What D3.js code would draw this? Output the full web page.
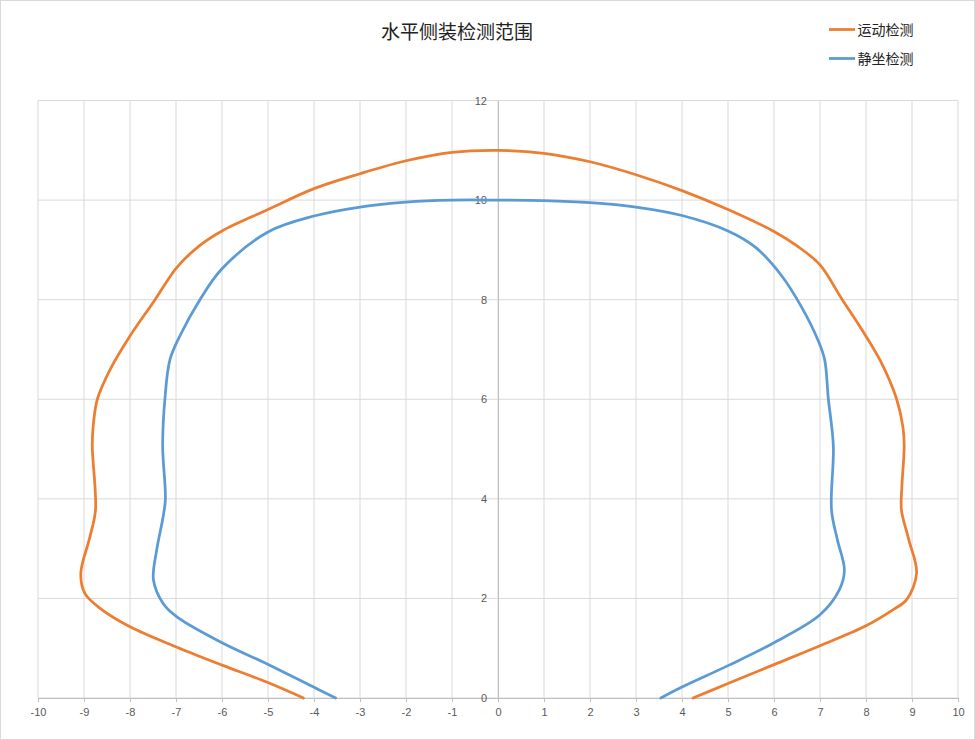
<!DOCTYPE html>
<html>
<head>
<meta charset="utf-8">
<script src="https://cdn.jsdelivr.net/npm/d3@7"></script>
<style>
  body { margin: 0; background: #fff; }
  svg { display: block; font-family: "Noto Sans CJK SC", "Noto Sans", sans-serif; }
</style>
</head>
<body>
<div id="chart"></div>
<script>
// Series names
const seriesNames = ["运动检测", "静坐检测"];

// 运动检测 (x, y) points
const runX = [-4.23, -5.03, -6.0, -6.98, -8.0, -8.65, -8.98, -9.07, -8.87, -8.75, -8.82, -8.8, -8.71, -8.43, -8.0, -7.47, -6.98, -6.48, -6.0, -5.0, -4.0, -3.0, -2.0, -1.0, 0, 1, 2, 3, 4, 5, 6, 6.5, 7, 7.45, 7.97, 8.33, 8.66, 8.8, 8.83, 8.78, 8.77, 8.93, 9.1, 8.88, 8.6, 8.0, 7.0, 6.0, 5.0, 4.24];
const runY = [0, 0.32, 0.66, 1.02, 1.43, 1.8, 2.1, 2.5, 3.24, 3.78, 5.06, 5.46, 6.0, 6.6, 7.27, 7.98, 8.65, 9.09, 9.38, 9.81, 10.23, 10.53, 10.79, 10.96, 11.0, 10.94, 10.77, 10.51, 10.19, 9.81, 9.37, 9.08, 8.7, 8.05, 7.31, 6.74, 6.02, 5.46, 5.06, 4.25, 3.78, 3.18, 2.51, 1.97, 1.78, 1.45, 1.05, 0.67, 0.29, 0];

// 静坐检测 (x, y) points
const sitX = [-3.53, -4.01, -5.03, -6.0, -6.98, -7.28, -7.49, -7.42, -7.28, -7.23, -7.29, -7.24, -7.13, -6.9, -6.48, -6.0, -5.0, -4.0, -3.0, -2.0, -1.0, 0, 1, 2, 3, 4, 5, 5.6, 6.15, 6.6, 6.95, 7.1, 7.18, 7.29, 7.25, 7.38, 7.53, 7.42, 7.0, 6.0, 5.0, 4.0, 3.54];
const sitY = [0, 0.22, 0.69, 1.11, 1.63, 1.9, 2.37, 2.97, 3.64, 4.0, 5.06, 6.02, 6.8, 7.3, 8.0, 8.62, 9.36, 9.68, 9.86, 9.96, 10.0, 10.0, 9.99, 9.95, 9.86, 9.69, 9.38, 9.05, 8.5, 7.85, 7.2, 6.8, 6.02, 5.06, 3.78, 3.17, 2.57, 2.17, 1.67, 1.11, 0.65, 0.22, 0];

// Axis ticks
const xTicks = d3.range(-10, 11, 1);
const yTicks = [0, 2, 4, 6, 8, 10, 12];

const colors = ["#ED7D31", "#5B9BD5"];

const width = 975;
const height = 740;
const plot = { left: 38, right: 958, top: 100.5, bottom: 698 };

const svg = d3.select("#chart")
  .append("svg")
  .attr("width", width)
  .attr("height", height);

// Outer chart border
svg.append("rect")
  .attr("x", 0.5).attr("y", 0.5)
  .attr("width", width - 1).attr("height", height - 1)
  .attr("fill", "#fff")
  .attr("stroke", "#d9d9d9");

const x = d3.scaleLinear().domain([-10, 10]).range([plot.left, plot.right]);
const y = d3.scaleLinear().domain([0, 12]).range([plot.bottom, plot.top]);

// Gridlines
svg.append("g")
  .selectAll("line")
  .data(xTicks)
  .join("line")
  .attr("x1", d => x(d)).attr("x2", d => x(d))
  .attr("y1", y(0)).attr("y2", y(12))
  .attr("stroke", "#d9d9d9");

svg.append("g")
  .selectAll("line")
  .data(yTicks)
  .join("line")
  .attr("x1", x(-10)).attr("x2", x(10))
  .attr("y1", d => y(d)).attr("y2", d => y(d))
  .attr("stroke", "#d9d9d9");

// X axis at y = 0 (plain hyphen for negatives, like the original)
const xAxis = svg.append("g")
  .attr("transform", `translate(0,${y(0)})`)
  .call(d3.axisBottom(x).tickValues(xTicks).tickFormat(d => String(d))
    .tickSize(4).tickSizeOuter(0).tickPadding(6));

// Y axis at x = 0
const yAxis = svg.append("g")
  .attr("transform", `translate(${x(0)},0)`)
  .call(d3.axisLeft(y).tickValues(yTicks).tickFormat(d => String(d))
    .tickSize(0).tickPadding(11));

[xAxis, yAxis].forEach(a => {
  a.select(".domain").attr("stroke", "#bfbfbf");
  a.selectAll(".tick line").attr("stroke", "#bfbfbf");
  a.selectAll(".tick text")
    .attr("fill", "#595959")
    .attr("font-size", "11px")
    .attr("font-family", "'Liberation Sans', Arial, sans-serif");
});
yAxis.selectAll(".tick text").attr("dy", "0.32em");

// Curves
const line = d3.line()
  .x(d => x(d[0]))
  .y(d => y(d[1]))
  .curve(d3.curveCatmullRom.alpha(0.5));

const series = [
  d3.zip(runX, runY),
  d3.zip(sitX, sitY)
];

svg.append("g")
  .selectAll("path")
  .data(series)
  .join("path")
  .attr("d", line)
  .attr("fill", "none")
  .attr("stroke", (d, i) => colors[i])
  .attr("stroke-width", 2.75)
  .attr("stroke-linejoin", "round")
  .attr("stroke-linecap", "round");

// Title
svg.append("text")
  .attr("x", 457)
  .attr("y", 39)
  .attr("text-anchor", "middle")
  .attr("font-size", "19px")
  .attr("fill", "#222")
  .text("水平侧装检测范围");

// Legend
const legend = svg.append("g")
  .selectAll("g")
  .data(seriesNames)
  .join("g")
  .attr("transform", (d, i) => `translate(829,${29.5 + i * 29})`);

legend.append("line")
  .attr("x1", 0).attr("x2", 26)
  .attr("stroke", (d, i) => colors[i])
  .attr("stroke-width", 2.75);

legend.append("text")
  .attr("x", 28.5)
  .attr("dy", "0.36em")
  .attr("font-size", "14px")
  .attr("fill", "#222")
  .text(d => d);
</script>
</body>
</html>
